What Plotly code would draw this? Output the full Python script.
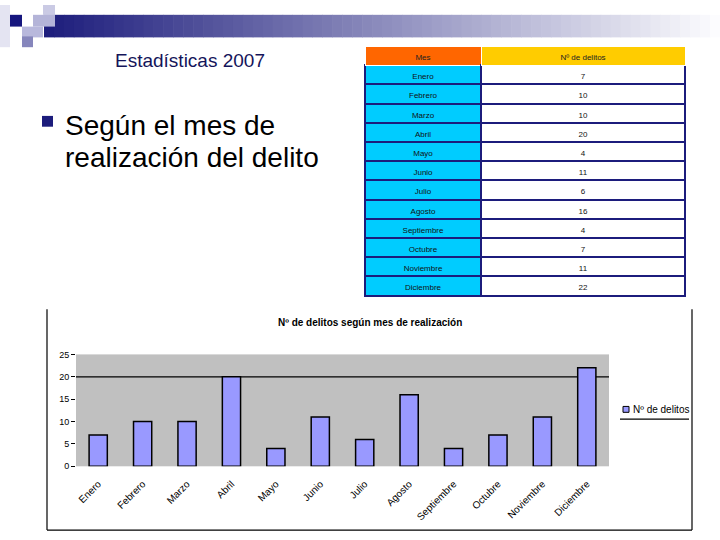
import plotly.graph_objects as go

meses = ["Enero", "Febrero", "Marzo", "Abril", "Mayo", "Junio", "Julio",
         "Agosto", "Septiembre", "Octubre", "Noviembre", "Diciembre"]
delitos = [7, 10, 10, 20, 4, 11, 6, 16, 4, 7, 11, 22]
serie = "Nº de delitos"
y_ticks = [0, 5, 10, 15, 20, 25]

W, H = 720, 540
FONT = "Arial, Liberation Sans, sans-serif"
NAVY = "#1c1c7c"
BAR = "#9999FF"


def px(x):
    return x / W


def py(y):
    return 1 - y / H


shapes = []
annotations = []

# header gradient band
x0, x1 = 44, 720
steps = 68
c0 = (30, 30, 125)
c1 = (252, 252, 254)
for i in range(steps):
    t = i / (steps - 1)
    col = tuple(int(c0[k] + (c1[k] - c0[k]) * t) for k in range(3))
    xa = x0 + (x1 - x0) * i / steps
    xb = x0 + (x1 - x0) * (i + 1) / steps + 0.6
    shapes.append(dict(type="rect", xref="paper", yref="paper",
                       x0=px(xa), x1=px(xb), y0=py(33), y1=py(10),
                       fillcolor="rgb(%d,%d,%d)" % col, line=dict(width=0), layer="below"))

# decorative squares
squares = [
    (0, 10, 0, 43, "#e4e4f2"),
    (43, 55, 0, 10, "#cacae4"),
    (33, 55, 10, 22, "#b4b4d8"),
    (22, 43, 22, 33, "#b8b8dc"),
    (22, 33, 32, 43, "#8686bc"),
    (10, 22, 10, 22, "#16167e"),
]
for a, b, c, d, col in squares:
    shapes.append(dict(type="rect", xref="paper", yref="paper",
                       x0=px(a), x1=px(b), y0=py(d), y1=py(c),
                       fillcolor=col, line=dict(width=0), layer="below"))

# bullet
shapes.append(dict(type="rect", xref="paper", yref="paper",
                   x0=px(42), x1=px(53), y0=py(124), y1=py(113),
                   fillcolor=NAVY, line=dict(width=0)))

annotations.append(dict(x=px(190), y=py(57), xref="paper", yref="paper",
                        text="Estadísticas 2007", showarrow=False,
                        font=dict(family=FONT, size=19, color="#14145a"),
                        xanchor="center", yanchor="middle"))
annotations.append(dict(x=px(63), y=py(123), xref="paper", yref="paper",
                        text="Según el mes de", showarrow=False,
                        font=dict(family=FONT, size=28, color="#000000"),
                        xanchor="left", yanchor="middle"))
annotations.append(dict(x=px(63), y=py(155), xref="paper", yref="paper",
                        text="realización del delito", showarrow=False,
                        font=dict(family=FONT, size=28, color="#000000"),
                        xanchor="left", yanchor="middle"))

# chart frame
shapes += [
    dict(type="line", xref="paper", yref="paper", x0=px(47), x1=px(47), y0=py(310), y1=py(535),
         line=dict(color="black", width=1.2)),
    dict(type="line", xref="paper", yref="paper", x0=px(47), x1=px(692), y0=py(535), y1=py(535),
         line=dict(color="black", width=1.2)),
    dict(type="line", xref="paper", yref="paper", x0=px(692), x1=px(692), y0=py(310), y1=py(535),
         line=dict(color="black", width=1.2)),
    # gridline at 20
    dict(type="line", xref="x domain", yref="y", x0=0, x1=1, y0=20, y1=20,
         line=dict(color="black", width=1.2), layer="below"),
    # legend underline
    dict(type="line", xref="paper", yref="paper", x0=px(620), x1=px(689), y0=py(422), y1=py(422),
         line=dict(color="black", width=1.2)),
    # legend key
    dict(type="rect", xref="paper", yref="paper", x0=px(623), x1=px(629), y0=py(415), y1=py(409),
         fillcolor=BAR, line=dict(color="black", width=1)),
]

annotations.append(dict(x=px(631), y=py(412), xref="paper", yref="paper",
                        text=serie, showarrow=False,
                        font=dict(family=FONT, size=10, color="black"),
                        xanchor="left", yanchor="middle"))

annotations.append(dict(x=px(370), y=py(323), xref="paper", yref="paper",
                        text="<b>Nº de delitos según mes de realización</b>", showarrow=False,
                        font=dict(family=FONT, size=10, color="black"),
                        xanchor="center", yanchor="middle"))

fig = go.Figure()

fig.add_trace(go.Bar(
    x=meses, y=delitos, name=serie,
    marker=dict(color=BAR, line=dict(color="black", width=1.5)),
    showlegend=False,
))

fig.add_trace(go.Table(
    domain=dict(x=[px(365), px(685)], y=[py(305), py(42)]),
    columnwidth=[116, 204],
    header=dict(values=["Mes", serie],
                fill_color=[["#FF6600"], ["#FFCC00"]],
                line=dict(color="white", width=1),
                font=dict(family=FONT, size=8, color="#222222"),
                align="center", height=19),
    cells=dict(values=[meses, delitos],
               fill_color=[["#00CCFF"] * len(meses), ["#FFFFFF"] * len(meses)],
               line=dict(color=NAVY, width=2),
               font=dict(family=FONT, size=8, color="#111111"),
               align="center", height=19.2),
))

fig.update_layout(
    width=W, height=H,
    margin=dict(l=0, r=0, t=0, b=0),
    paper_bgcolor="white",
    plot_bgcolor="#C0C0C0",
    font=dict(family=FONT, color="black"),
    bargap=0.59,
    showlegend=False,
    shapes=shapes,
    annotations=annotations,
    xaxis=dict(domain=[px(76), px(609)], anchor="y", type="category",
               tickangle=-45, tickfont=dict(family=FONT, size=10, color="black"),
               ticklabelstandoff=9,
               showgrid=False, showline=False, ticks=""),
    yaxis=dict(domain=[py(470), py(356)], anchor="x", range=[0, 25],
               tickvals=y_ticks, tickfont=dict(family=FONT, size=9, color="black"),
               ticks="outside", ticklen=4, tickcolor="black",
               showgrid=False, zeroline=False, showline=False),
)

fig.write_html("out.html", config={"displayModeBar": False},
               post_script="document.body.style.margin='0';document.body.style.overflow='hidden';")
